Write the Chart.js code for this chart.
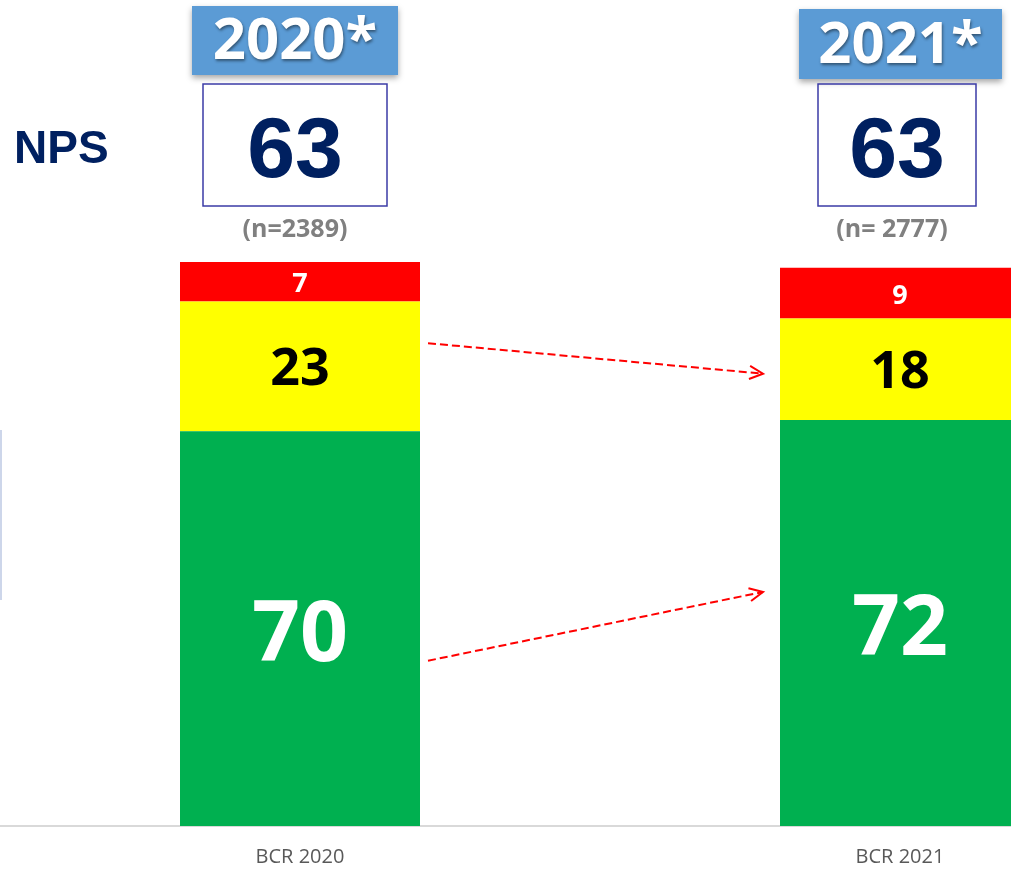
<!DOCTYPE html>
<html>
<head>
<meta charset="utf-8">
<script src="https://cdn.jsdelivr.net/npm/chart.js@4"></script>
<style>
  html, body { margin: 0; padding: 0; background: #fff; overflow: hidden; }
  #wrap { width: 1200px; height: 872px; position: relative; }
</style>
</head>
<body>
<div id="wrap"><canvas id="chartNPS"></canvas></div>
<script>
const labels = ["BCR 2020", "BCR 2021"];
const years = ["2020*", "2021*"];
const nps = [63, 63];
const sampleText = ["(n=2389)", "(n= 2777)"];
const promoters = [70, 72];
const passives = [23, 18];
const detractors = [7, 9];

// header box sizes per column (px)
const yearBox = [{ x: 192, w: 206, y: 6, h: 69 }, { x: 799, w: 203, y: 9, h: 70 }];
const npsBox = [{ x: 203, w: 184 }, { x: 818, w: 158 }];
const nCenter = [295, 892];

const annotations = {
  id: "annotations",
  afterDatasetsDraw(chart) {
    const ctx = chart.ctx;
    const y = chart.scales.y;

    // segment labels
    const styles = [
      { color: "#fff", size: 84, off: 8 },
      { color: "#000", size: 52, off: 4 },
      { color: "#fff", size: 27, off: 3 },
    ];
    chart.data.datasets.forEach((ds, di) => {
      const meta = chart.getDatasetMeta(di);
      meta.data.forEach((bar, i) => {
        ctx.save();
        ctx.fillStyle = styles[di].color;
        ctx.font = "bold " + styles[di].size + "px 'Open Sans'";
        ctx.textAlign = "center";
        ctx.textBaseline = "middle";
        ctx.fillText(ds.data[i], bar.x, (bar.y + bar.base) / 2 + styles[di].off);
        ctx.restore();
      });
    });

    ctx.save();
    // NPS label
    ctx.fillStyle = "#002060";
    ctx.font = "bold 46px 'Liberation Sans'";
    ctx.textBaseline = "alphabetic";
    ctx.textAlign = "left";
    ctx.fillText("NPS", 14, 163);

    // small left line
    ctx.strokeStyle = "#cdd6ea";
    ctx.lineWidth = 2;
    ctx.beginPath();
    ctx.moveTo(1, 430);
    ctx.lineTo(1, 600);
    ctx.stroke();

    for (let i = 0; i < labels.length; i++) {
      const yb = yearBox[i];
      // year box with shadow
      ctx.save();
      ctx.shadowColor = "rgba(0,0,0,0.35)";
      ctx.shadowBlur = 6;
      ctx.shadowOffsetY = 3;
      ctx.fillStyle = "#5b9bd5";
      ctx.fillRect(yb.x, yb.y, yb.w, yb.h);
      ctx.restore();

      ctx.save();
      ctx.shadowColor = "rgba(0,0,0,0.45)";
      ctx.shadowBlur = 3;
      ctx.shadowOffsetX = 1;
      ctx.shadowOffsetY = 2;
      ctx.fillStyle = "#fff";
      ctx.font = "bold 58px 'Open Sans'";
      ctx.textAlign = "center";
      ctx.textBaseline = "middle";
      ctx.fillText(years[i], yb.x + yb.w / 2, yb.y + yb.h / 2 + 2);
      ctx.restore();

      // NPS box
      const nb = npsBox[i];
      ctx.strokeStyle = "#3b3ba6";
      ctx.lineWidth = 1.5;
      ctx.strokeRect(nb.x, 84, nb.w, 122);
      ctx.fillStyle = "#002060";
      ctx.font = "bold 86px 'Liberation Sans'";
      ctx.textAlign = "center";
      ctx.textBaseline = "alphabetic";
      ctx.fillText(nps[i], nb.x + nb.w / 2, 177);

      ctx.fillStyle = "#808080";
      ctx.font = "bold 25px 'Open Sans'";
      ctx.textBaseline = "middle";
      ctx.fillText(sampleText[i], nCenter[i], 230);
    }

    // dashed arrows between bars
    const b0 = chart.getDatasetMeta(0).data[0];
    const b1 = chart.getDatasetMeta(0).data[1];
    const x0 = b0.x + b0.width / 2 + 8;
    const x1 = b1.x - b1.width / 2 - 17;
    const arrows = [[85.6, 80.2], [29.3, 41.5]];
    ctx.strokeStyle = "#ff0000";
    ctx.lineWidth = 2;
    arrows.forEach(([v0, v1]) => {
      const ya = y.getPixelForValue(v0);
      const yb2 = y.getPixelForValue(v1);
      ctx.setLineDash([8, 4]);
      ctx.beginPath();
      ctx.moveTo(x0, ya);
      ctx.lineTo(x1, yb2);
      ctx.stroke();
      ctx.setLineDash([]);
      const ang = Math.atan2(yb2 - ya, x1 - x0);
      const len = 15;
      ctx.beginPath();
      ctx.moveTo(x1 - len * Math.cos(ang - 0.45), yb2 - len * Math.sin(ang - 0.45));
      ctx.lineTo(x1, yb2);
      ctx.lineTo(x1 - len * Math.cos(ang + 0.45), yb2 - len * Math.sin(ang + 0.45));
      ctx.stroke();
    });
    ctx.restore();
  },
};

new Chart(document.querySelector("#chartNPS"), {
  type: "bar",
  data: {
    labels: labels,
    datasets: [
      { label: "Promoters", data: promoters, backgroundColor: "#00b050" },
      { label: "Passives", data: passives, backgroundColor: "#ffff00" },
      { label: "Detractors", data: detractors, backgroundColor: "#ff0000" },
    ],
  },
  options: {
    responsive: true,
    maintainAspectRatio: false,
    animation: false,
    layout: { padding: { top: 262, left: 0, right: 0, bottom: 0 } },
    datasets: { bar: { barPercentage: 0.4, categoryPercentage: 1 } },
    scales: {
      x: {
        stacked: true,
        grid: { display: false, drawTicks: false },
        border: { display: true, color: "#d9d9d9", width: 2 },
        ticks: { color: "#595959", font: { family: "'Open Sans'", size: 20 }, padding: 19 },
        afterFit(scale) {
          scale.height = 46;
        },
      },
      y: {
        stacked: true,
        display: false,
        min: 0,
        max: 100,
      },
    },
    plugins: {
      legend: { display: false },
      tooltip: { enabled: false },
    },
  },
  plugins: [annotations],
});
</script>
</body>
</html>
